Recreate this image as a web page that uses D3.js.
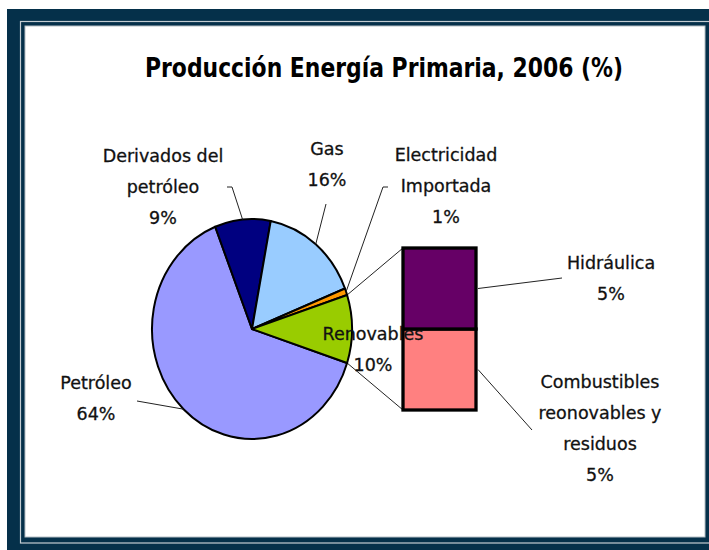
<!DOCTYPE html>
<html lang="es">
<head>
  <meta charset="UTF-8">
  <title>Producción Energía Primaria, 2006</title>
  <script src="https://d3js.org/d3.v7.min.js"></script>
  <style>
    body { margin: 0; background: #fff; }
    svg { display: block; }
    .lbl { font-family: "DejaVu Sans", sans-serif; font-size: 17.5px; fill: #111; stroke: #111; stroke-width: 0.3px; text-anchor: middle; }
    .title { font-family: "DejaVu Sans Condensed", "DejaVu Sans", sans-serif; font-stretch: condensed; font-size: 26px; font-weight: bold; fill: #000; text-anchor: middle; }
    .leader { fill: none; stroke: #222; stroke-width: 1; }
  </style>
</head>
<body>
<svg width="709" height="550"></svg>
<script>
// pie data (main)
const categories = ["Petróleo", "Derivados del petróleo", "Gas", "Electricidad Importada", "Renovables"];
const values = [64, 9, 16, 1, 10];
const colors = ["#9999ff", "#000080", "#99ccff", "#ff9900", "#99cc00"];

// bar of pie (Renovables split)
const subCategories = ["Combustibles reonovables y residuos", "Hidráulica"];
const subValues = [5, 5];
const subColors = ["#ff8080", "#660066"];

// label lines as shown in the chart
const labelLines = {
  "Petróleo": ["Petróleo", "64%"],
  "Derivados del petróleo": ["Derivados del", "petróleo", "9%"],
  "Gas": ["Gas", "16%"],
  "Electricidad Importada": ["Electricidad", "Importada", "1%"],
  "Renovables": ["Renovables", "10%"],
  "Hidráulica": ["Hidráulica", "5%"],
  "Combustibles reonovables y residuos": ["Combustibles", "reonovables y", "residuos", "5%"]
};

// layout
const W = 709, H = 550;
const cx = 252, cy = 329, R = 100, squash = 1.1;   // pie is drawn slightly taller than wide
const lineH = 31;
const labelPos = {
  "Petróleo": { x: 96, y: 389, from: [137, 401] },
  "Derivados del petróleo": { x: 163, y: 162, from: [227, 187], elbow: [232, 187] },
  "Gas": { x: 327, y: 155, from: [326, 204] },
  "Electricidad Importada": { x: 446, y: 161, from: [388, 187], elbow: [383, 187] },
  "Renovables": { x: 373, y: 340 },
  "Hidráulica": { x: 611, y: 269, to: [562, 278] },
  "Combustibles reonovables y residuos": { x: 600, y: 388, to: [532, 430] }
};
const bar = { x0: 403, x1: 476, y0: 248, y1: 410 };

const svg = d3.select("svg");

// frame
svg.append("rect").attr("x", 7).attr("y", 9).attr("width", 720).attr("height", 560).attr("fill", "#05304a");
svg.append("rect").attr("x", 20.5).attr("y", 21.5).attr("width", 700).attr("height", 521.5)
  .attr("fill", "none").attr("stroke", "#c3ccd2").attr("stroke-width", 1.2);
svg.append("rect").attr("x", 25).attr("y", 26).attr("width", 680).attr("height", 511)
  .attr("fill", "#fff").attr("stroke", "#b5bec4").attr("stroke-width", 1);

// title
const title = svg.append("text").attr("class", "title")
  .attr("x", 384).attr("y", 77)
  .text("Producción Energía Primaria, 2006 (%)");
if (title.node().getComputedTextLength() > 480) {
  title.attr("textLength", 478).attr("lengthAdjust", "spacingAndGlyphs");
}

const deg = Math.PI / 180;
const total = d3.sum(values);
const lastShare = values[values.length - 1] / total * 360;
// "other" slice centred at 3 o'clock, as Excel does for bar-of-pie
const start = (90 + lastShare / 2) * deg;

const pie = d3.pie().sort(null).value(d => d.value)
  .startAngle(start).endAngle(start + 2 * Math.PI);
const arcs = pie(categories.map((c, i) => ({ name: c, value: values[i], color: colors[i] })));
const arc = d3.arc().innerRadius(0).outerRadius(R);

function edgePoint(a) {
  return [cx + Math.sin(a) * R, cy - Math.cos(a) * R * squash];
}

// connectors pie -> bar
const other = arcs[arcs.length - 1];
const y = d3.scaleLinear().domain([0, d3.sum(subValues)]).range([bar.y1, bar.y0]);
const conn = svg.append("g");
[[other.startAngle, y.range()[1]], [other.endAngle, y.range()[0]]].forEach(([a, by]) => {
  const p = edgePoint(a);
  conn.append("line").attr("class", "leader")
    .attr("x1", p[0]).attr("y1", p[1]).attr("x2", bar.x0).attr("y2", by)
    .attr("stroke", "#444");
});

// pie
svg.append("g")
  .attr("transform", `translate(${cx},${cy}) scale(1,${squash})`)
  .selectAll("path")
  .data(arcs)
  .join("path")
  .attr("d", arc)
  .attr("fill", d => d.data.color)
  .attr("stroke", "#000")
  .attr("stroke-width", 2)
  .attr("stroke-linejoin", "round")
  .attr("vector-effect", "non-scaling-stroke");

// stacked bar
let acc = 0;
const segs = subValues.map((v, i) => {
  const s = { name: subCategories[i], color: subColors[i], lo: acc, hi: acc + v };
  acc += v;
  return s;
});
svg.append("g")
  .selectAll("rect")
  .data(segs)
  .join("rect")
  .attr("x", bar.x0)
  .attr("width", bar.x1 - bar.x0)
  .attr("y", d => y(d.hi))
  .attr("height", d => y(d.lo) - y(d.hi))
  .attr("fill", d => d.color)
  .attr("stroke", "#000")
  .attr("stroke-width", 3.3);

// leader lines
const leaders = svg.append("g");
arcs.forEach(d => {
  const lp = labelPos[d.data.name];
  if (!lp.from) return;
  const p = edgePoint((d.startAngle + d.endAngle) / 2);
  const pts = [lp.from];
  if (lp.elbow) pts.push(lp.elbow);
  pts.push(p);
  leaders.append("path").attr("class", "leader").attr("d", d3.line()(pts));
});
segs.forEach(s => {
  const lp = labelPos[s.name];
  leaders.append("path").attr("class", "leader")
    .attr("d", d3.line()([[bar.x1 + 2, y((s.lo + s.hi) / 2)], lp.to]));
});

// labels
const labels = svg.append("g");
Object.keys(labelLines).forEach(name => {
  const lp = labelPos[name];
  const t = labels.append("text").attr("class", "lbl");
  labelLines[name].forEach((line, i) => {
    t.append("tspan").attr("x", lp.x).attr("y", lp.y + i * lineH).text(line);
  });
});
</script>
</body>
</html>
